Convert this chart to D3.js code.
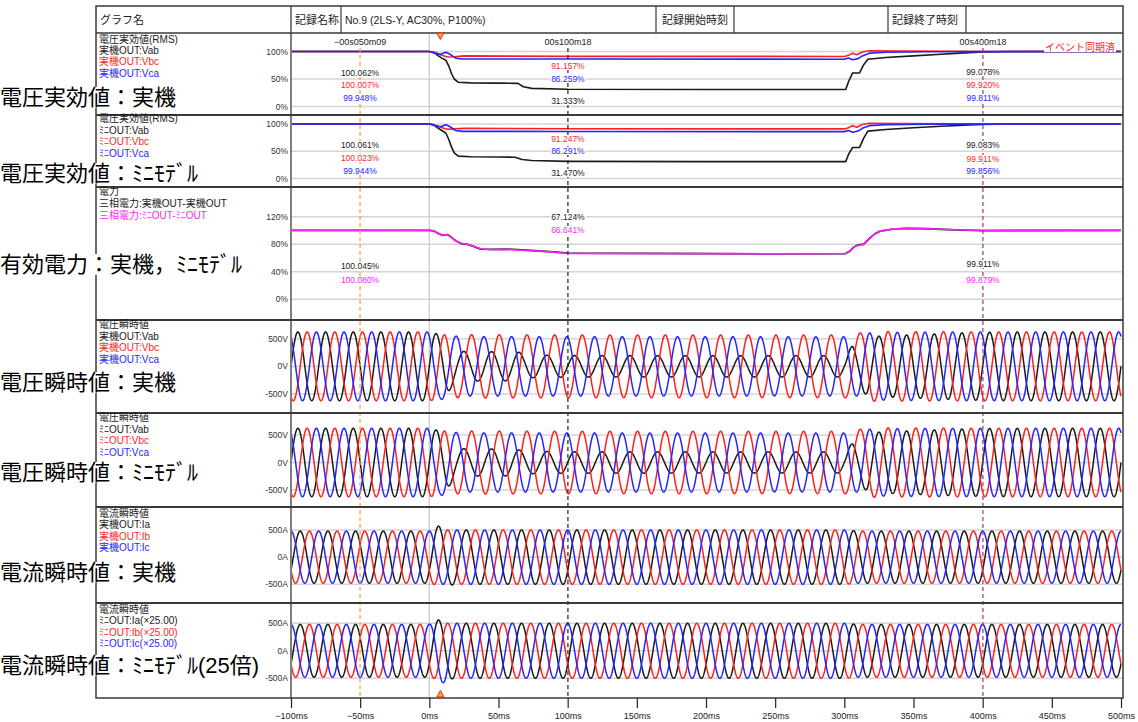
<!DOCTYPE html>
<html><head><meta charset="utf-8">
<script src="https://cdn.jsdelivr.net/npm/d3@7"></script>
<style>
body{margin:0;background:#fff;}
svg{display:block;font-family:"Liberation Sans","Noto Sans CJK JP",sans-serif;}
</style></head><body>
<svg id="c" width="1138" height="722"></svg>
<script>
// ---------- axis / header data ----------
const timeTicks = [-100,-50,0,50,100,150,200,250,300,350,400,450,500];
const timeTickLabels = ["−100ms","−50ms","0ms","50ms","100ms","150ms","200ms","250ms","300ms","350ms","400ms","450ms","500ms"];
const headerTexts = ["グラフ名","記録名称","No.9 (2LS-Y, AC30%, P100%)","記録開始時刻","","記録終了時刻",""];

const cursorTimes = [-50.09, 100.18, 400.18];
const cursorLabels = ["−00s050m09","00s100m18","00s400m18"];
const triggerTime = 8;
const syncLabel = "イベント同期済";

const sideTitles = ["電圧実効値：実機","電圧実効値：ﾐﾆﾓﾃﾞﾙ","有効電力：実機，ﾐﾆﾓﾃﾞﾙ","電圧瞬時値：実機","電圧瞬時値：ﾐﾆﾓﾃﾞﾙ","電流瞬時値：実機","電流瞬時値：ﾐﾆﾓﾃﾞﾙ(25倍)"];

const legendRmsReal  = ["電圧実効値(RMS)","実機OUT:Vab","実機OUT:Vbc","実機OUT:Vca"];
const legendRmsMini  = ["電圧実効値(RMS)","ﾐﾆOUT:Vab","ﾐﾆOUT:Vbc","ﾐﾆOUT:Vca"];
const legendPower    = ["電力","三相電力:実機OUT-実機OUT","三相電力:ﾐﾆOUT-ﾐﾆOUT"];
const legendVoltReal = ["電圧瞬時値","実機OUT:Vab","実機OUT:Vbc","実機OUT:Vca"];
const legendVoltMini = ["電圧瞬時値","ﾐﾆOUT:Vab","ﾐﾆOUT:Vbc","ﾐﾆOUT:Vca"];
const legendCurReal  = ["電流瞬時値","実機OUT:Ia","実機OUT:Ib","実機OUT:Ic"];
const legendCurMini  = ["電流瞬時値","ﾐﾆOUT:Ia(×25.00)","ﾐﾆOUT:Ib(×25.00)","ﾐﾆOUT:Ic(×25.00)"];

const rmsTicks = [0,50,100];        const rmsTickLabels = ["0%","50%","100%"];
const powerTicks = [0,40,80,120];   const powerTickLabels = ["0%","40%","80%","120%"];
const voltTicks = [-500,0,500];     const voltTickLabels = ["-500V","0V","500V"];
const ampTicks = [-500,0,500];      const ampTickLabels = ["-500A","0A","500A"];

// ---------- RMS voltage [ms, %] ----------
const vabRmsReal = [[-100,100],[-50,100.06],[0,100],[3,99],[6,93],[9,88],[12,84],[14,74],[16,60],[18,50],[21,44],[30,43],[50,42.5],[64,42],[68,36],[74,33],[100,31.33],[200,31],[301,31],[303,45],[306,61],[311,61],[314,76],[317,86],[330,89],[350,92],[370,95],[390,98],[400,99.08],[420,100],[500,100]];
const vbcRmsReal = [[-100,100],[-50,100.01],[0,100],[4,98],[8,94],[13,90],[18,90.5],[25,92],[100,91.16],[300,91],[303,93],[306,97],[309,94],[313,99],[318,101.5],[340,101],[380,100.4],[400,99.92],[500,100]];
const vcaRmsReal = [[-100,100],[-50,99.95],[0,100],[4,97],[8,95],[12,98.5],[15,95],[19,88],[24,86.5],[100,86.26],[300,86],[303,88],[306,85],[310,87],[313,92],[318,97],[330,98.5],[360,99.6],[400,99.81],[500,100]];
const rmsReadReal = {Vab:[100.062,31.333,99.078], Vbc:[100.007,91.157,99.920], Vca:[99.948,86.259,99.811]};

const vabRmsMini = [[-100,100],[-50,100.06],[0,100],[3,99],[6,93],[9,88],[12,83],[14,72],[16,58],[18,47],[21,41],[30,40],[50,39.5],[62,39],[67,35],[74,33],[100,31.47],[200,31],[301,31],[303,44],[306,57],[311,57],[314,74],[317,87],[330,90],[350,93],[370,96],[390,98.3],[400,99.08],[420,100],[500,100]];
const vbcRmsMini = [[-100,100],[-50,100.02],[0,100],[4,98],[8,94],[13,90.5],[18,91],[25,92],[100,91.25],[300,91],[303,93],[306,97],[309,94],[313,99],[318,101.5],[340,101],[380,100.4],[400,99.91],[500,100]];
const vcaRmsMini = [[-100,100],[-50,99.94],[0,100],[4,97],[8,95],[12,98.5],[15,95],[19,88],[24,86.5],[100,86.29],[300,86],[303,88],[306,85],[310,87],[313,92],[318,97],[330,98.5],[360,99.6],[400,99.86],[500,100]];
const rmsReadMini = {Vab:[100.061,31.470,99.083], Vbc:[100.023,91.247,99.911], Vca:[99.944,86.291,99.856]};

// ---------- three-phase active power [ms, %] ----------
const powerReal = [[-100,100],[-50,100.05],[0,100],[3,99.5],[7,95],[10,93],[13,94],[16,90],[19,85],[23,81],[27,80],[32,77],[37,73],[45,72.5],[55,73],[70,71.5],[90,69],[100,67.12],[200,66.5],[250,66],[301,66.5],[304,70],[307,76],[310,79],[314,80],[318,88],[322,95],[326,99],[335,102],[345,103],[360,102.5],[380,101],[400,99.91],[500,100]];
const powerMini = [[-100,100],[-50,100.08],[0,100],[3,99.5],[7,95],[10,93],[13,94],[16,90],[19,85],[23,81.5],[27,80],[32,77],[37,73.5],[45,72],[55,72.5],[70,71],[90,68.5],[100,66.64],[200,66.3],[250,66],[301,66.5],[304,70],[307,76],[310,78.5],[314,79.5],[318,88],[322,95],[326,99],[335,102],[345,103],[360,102.5],[380,101],[400,99.88],[500,100]];
const powerReadReal = [100.045, 67.124, 99.911];
const powerReadMini = [100.080, 66.641, 99.879];

// ---------- instantaneous waveforms: 50 Hz, envelope [ms, peak] & phase [ms, deg] ----------
const lineFreq = 50;
const voltPeakPerPct = 6.22;   // 440 V line voltage peak per 1 %
const vabPhase = [[-100,-90],[500,-90]];
const vbcPhase = [[-100,-210],[3,-210],[15,-190],[300,-190],[315,-210],[500,-210]];
const vcaPhase = [[-100,30],[3,30],[15,10],[300,10],[315,30],[500,30]];

const iaAmpReal = [[-100,480],[0,480],[4,570],[10,570],[18,500],[300,500],[310,480],[500,480]];
const ibAmpReal = [[-100,480],[0,480],[6,520],[14,500],[300,500],[310,480],[500,480]];
const icAmpReal = [[-100,480],[0,480],[6,500],[300,500],[310,480],[500,480]];
const iaAmpMini = [[-100,480],[0,480],[4,560],[10,560],[18,500],[300,500],[310,480],[500,480]];
const ibAmpMini = [[-100,480],[0,480],[6,520],[14,500],[300,500],[310,480],[500,480]];
const icAmpMini = [[-100,480],[0,480],[6,580],[12,580],[18,500],[300,500],[310,480],[500,480]];
const iaPhase = [[-100,-120],[500,-120]];
const ibPhase = [[-100,120],[500,120]];
const icPhase = [[-100,0],[500,0]];

// ---------- colours ----------
const C = {blk:"#1a1a1a", red:"#ff1f1f", blu:"#2525ff", mag:"#ff22ff", grid:"#d4d4d4", frame:"#3a3a3a"};

// ---------- layout ----------
const svg = d3.select("#c");
const X0 = 291, X1 = 1121, FL = 96, FR = 1123;
const x = d3.scaleLinear().domain([-100,500]).range([X0,X1]);

const panels = [
  {top:33,  bottom:115, dom:[0,100],     rng:[106.5,51.5], ticks:rmsTicks,   tl:rmsTickLabels,   legend:legendRmsReal,  lc:[C.blk,C.blk,C.red,C.blu]},
  {top:115, bottom:187, dom:[0,100],     rng:[178.5,124],  ticks:rmsTicks,   tl:rmsTickLabels,   legend:legendRmsMini,  lc:[C.blk,C.blk,C.red,C.blu]},
  {top:187, bottom:320, dom:[0,120],     rng:[299.3,216.7],ticks:powerTicks, tl:powerTickLabels, legend:legendPower,    lc:[C.blk,C.blk,C.mag]},
  {top:320, bottom:413, dom:[-500,500],  rng:[394,338.7],  ticks:voltTicks,  tl:voltTickLabels,  legend:legendVoltReal, lc:[C.blk,C.blk,C.red,C.blu]},
  {top:413, bottom:507, dom:[-500,500],  rng:[490,435],    ticks:voltTicks,  tl:voltTickLabels,  legend:legendVoltMini, lc:[C.blk,C.blk,C.red,C.blu]},
  {top:507, bottom:603, dom:[-500,500],  rng:[584.3,530],  ticks:ampTicks,   tl:ampTickLabels,   legend:legendCurReal,  lc:[C.blk,C.blk,C.red,C.blu]},
  {top:603, bottom:698, dom:[-500,500],  rng:[678.3,623.3],ticks:ampTicks,   tl:ampTickLabels,   legend:legendCurMini,  lc:[C.blk,C.blk,C.red,C.blu]},
];
panels.forEach(p => p.y = d3.scaleLinear().domain(p.dom).range(p.rng));
const sideTitleY = [97, 173, 264, 382, 472, 572, 665];
const legendTop = [43, 122, 195, 328, 421, 517, 613];
const legendStep = [11.2, 11.5, 11.8, 11.5, 11.5, 11.3, 11.3];

svg.append("rect").attr("width",1138).attr("height",722).attr("fill","#fff");

const defs = svg.append("defs");
panels.forEach((p,i) => {
  defs.append("clipPath").attr("id","clip"+i).append("rect")
    .attr("x",X0+1).attr("y",p.top+1).attr("width",FR-X0-2).attr("height",p.bottom-p.top-2);
});

// gridlines
panels.forEach(p => {
  svg.append("g").selectAll("line").data(p.ticks).join("line")
    .attr("x1",X0).attr("x2",FR).attr("y1",d=>p.y(d)).attr("y2",d=>p.y(d))
    .attr("stroke",C.grid).attr("stroke-width",1.6);
});

// 0 ms reference line
svg.append("line").attr("x1",x(0)).attr("x2",x(0)).attr("y1",33).attr("y2",698)
  .attr("stroke","#c8c8c8").attr("stroke-width",1.2);

// ---------- series ----------
const interp = pts => d3.scaleLinear().domain(pts.map(d=>d[0])).range(pts.map(d=>d[1])).clamp(true);
const samples = d3.range(-100, 500.001, 0.2);

function drawPolyline(pi, pts, color, w){
  const p = panels[pi];
  svg.append("path").attr("clip-path",`url(#clip${pi})`)
    .attr("d", d3.line().x(d=>x(d[0])).y(d=>p.y(d[1]))(pts))
    .attr("fill","none").attr("stroke",color).attr("stroke-width",w||1.6).attr("stroke-linejoin","round");
}
function drawWave(pi, ampFn, phasePts, color){
  const p = panels[pi];
  const ph = interp(phasePts);
  const pts = samples.map(t => [t, ampFn(t) * Math.cos(2*Math.PI*lineFreq*t/1000 + ph(t)*Math.PI/180)]);
  svg.append("path").attr("clip-path",`url(#clip${pi})`)
    .attr("d", d3.line().x(d=>x(d[0])).y(d=>p.y(d[1]))(pts))
    .attr("fill","none").attr("stroke",color).attr("stroke-width",1.5).attr("stroke-linejoin","round");
}

// RMS panels
drawPolyline(0, vabRmsReal, C.blk); drawPolyline(0, vbcRmsReal, C.red); drawPolyline(0, vcaRmsReal, C.blu);
drawPolyline(1, vabRmsMini, C.blk); drawPolyline(1, vbcRmsMini, C.red); drawPolyline(1, vcaRmsMini, C.blu);
// power
drawPolyline(2, powerReal, C.blk, 1.8); drawPolyline(2, powerMini, C.mag, 1.6);

// voltage waveforms follow the RMS envelopes
const envV = rms => { const f = interp(rms); return t => voltPeakPerPct * f(t); };
drawWave(3, envV(vabRmsReal), vabPhase, C.blk);
drawWave(3, envV(vbcRmsReal), vbcPhase, C.red);
drawWave(3, envV(vcaRmsReal), vcaPhase, C.blu);
drawWave(4, envV(vabRmsMini), vabPhase, C.blk);
drawWave(4, envV(vbcRmsMini), vbcPhase, C.red);
drawWave(4, envV(vcaRmsMini), vcaPhase, C.blu);
// currents
drawWave(5, interp(iaAmpReal), iaPhase, C.blk);
drawWave(5, interp(ibAmpReal), ibPhase, C.red);
drawWave(5, interp(icAmpReal), icPhase, C.blu);
drawWave(6, interp(iaAmpMini), iaPhase, C.blk);
drawWave(6, interp(ibAmpMini), ibPhase, C.red);
drawWave(6, interp(icAmpMini), icPhase, C.blu);

// ---------- cursors ----------
const cursorColors = ["#ff9a2e","#222","#9b3b6e"];
cursorTimes.forEach((t,i) => {
  svg.append("line").attr("x1",x(t)).attr("x2",x(t)).attr("y1",48).attr("y2",698)
    .attr("stroke",cursorColors[i]).attr("stroke-width",1.2).attr("stroke-dasharray","4,3");
  svg.append("text").attr("x",x(t)).attr("y",45).attr("text-anchor","middle")
    .attr("font-size",9).attr("fill","#222").text(cursorLabels[i]);
});

function readout(t, text, color, yy){
  const g = svg.append("g");
  const tx = g.append("text").attr("x",x(t)).attr("y",yy).attr("text-anchor","middle")
    .attr("font-size",8.5).attr("fill",color).text(text);
  const b = tx.node().getBBox();
  g.insert("rect","text").attr("x",b.x-1).attr("y",b.y+1).attr("width",b.width+2).attr("height",b.height-2).attr("fill","#fff");
}
const fmt = v => v.toFixed(3)+"%";
const rr1Y = {Vab:[76,104,75], Vbc:[88,69,88], Vca:[101,82,101]};
const rr2Y = {Vab:[148,176,148], Vbc:[161,142,162], Vca:[174,154,174]};
["Vab","Vbc","Vca"].forEach((k,ki) => {
  const col = [C.blk,C.red,C.blu][ki];
  cursorTimes.forEach((t,i) => {
    readout(t,fmt(rmsReadReal[k][i]),col,rr1Y[k][i]);
    readout(t,fmt(rmsReadMini[k][i]),col,rr2Y[k][i]);
  });
});
const prY = [[269,220,267],[283,233,283]];
cursorTimes.forEach((t,i) => {
  readout(t,fmt(powerReadReal[i]),C.blk,prY[0][i]);
  readout(t,fmt(powerReadMini[i]),C.mag,prY[1][i]);
});

// event-sync tag
{
  const g = svg.append("g");
  const tx = g.append("text").attr("x",1045).attr("y",51).attr("font-size",10).attr("fill","#ff2a2a").text(syncLabel);
  const b = tx.node().getBBox();
  g.insert("rect","text").attr("x",b.x-1).attr("y",b.y+1).attr("width",b.width+2).attr("height",b.height-2).attr("fill","#fff");
}

// ---------- frame ----------
const frame = svg.append("g").attr("stroke",C.frame).attr("fill","none");
frame.append("rect").attr("x",FL).attr("y",6).attr("width",FR-FL).attr("height",692).attr("stroke-width",1.5);
frame.append("line").attr("x1",FL).attr("x2",FR).attr("y1",33).attr("y2",33).attr("stroke-width",1.5);
panels.slice(0,-1).forEach(p => frame.append("line").attr("x1",FL).attr("x2",FR).attr("y1",p.bottom).attr("y2",p.bottom).attr("stroke-width",2));
frame.append("line").attr("x1",X0).attr("x2",X0).attr("y1",6).attr("y2",698).attr("stroke-width",1.3);
[341,656,734,888,966].forEach(xx => frame.append("line").attr("x1",xx).attr("x2",xx).attr("y1",6).attr("y2",33).attr("stroke-width",1.2));

// header text
const headerX = [100,295,345,662,0,892,0];
headerTexts.forEach((s,i) => { if(s) svg.append("text").attr("x",headerX[i]).attr("y",24)
  .attr("font-size",i===2?10.5:11).attr("fill","#222").text(s); });

// legends (one text block per panel) & y tick labels
panels.forEach((p,i) => {
  svg.append("text").attr("x",99).attr("y",legendTop[i]).attr("font-size",10)
    .selectAll("tspan").data(p.legend).join("tspan")
    .attr("x",99).attr("dy",(d,j)=> j===0 ? 0 : legendStep[i])
    .attr("fill",(d,j)=>p.lc[j]).text(d=>d);
  svg.append("g").selectAll("text").data(p.ticks).join("text")
    .attr("x",288).attr("y",d=>p.y(d)+3).attr("text-anchor","end")
    .attr("font-size",8.5).attr("fill","#333")
    .text((d,j)=>p.tl[j]);
});

// side titles
sideTitles.forEach((s,i) => {
  const g = svg.append("g");
  const tx = g.append("text").attr("x",0).attr("y",sideTitleY[i]+8).attr("font-size",22).attr("fill","#000").text(s);
  const b = tx.node().getBBox();
  g.insert("rect","text").attr("x",b.x).attr("y",b.y+2).attr("width",b.width+2).attr("height",b.height-4).attr("fill","#fff");
});

// trigger markers
const tri = (cx,cy,down) => down ? `M${cx-3.5},${cy-3}L${cx+3.5},${cy-3}L${cx},${cy+3.5}Z` : `M${cx-3.5},${cy+3}L${cx+3.5},${cy+3}L${cx},${cy-3.5}Z`;
svg.append("path").attr("d",tri(x(triggerTime),36,true)).attr("fill","#ffb000").attr("stroke","#e23").attr("stroke-width",1);
svg.append("path").attr("d",tri(x(triggerTime),694,false)).attr("fill","#ffb000").attr("stroke","#e23").attr("stroke-width",1);

// time axis
const ax = svg.append("g").attr("transform","translate(0,698)")
  .call(d3.axisBottom(x).tickValues(timeTicks).tickFormat((d,i)=>timeTickLabels[i]).tickSize(10).tickSizeOuter(0));
ax.select(".domain").remove();
ax.selectAll("line").attr("stroke","#222").attr("stroke-width",1.2);
ax.selectAll("text").attr("font-size",9).attr("font-family","Liberation Sans, Arial, sans-serif").attr("fill","#222").attr("dy","0.9em");
</script></body></html>
